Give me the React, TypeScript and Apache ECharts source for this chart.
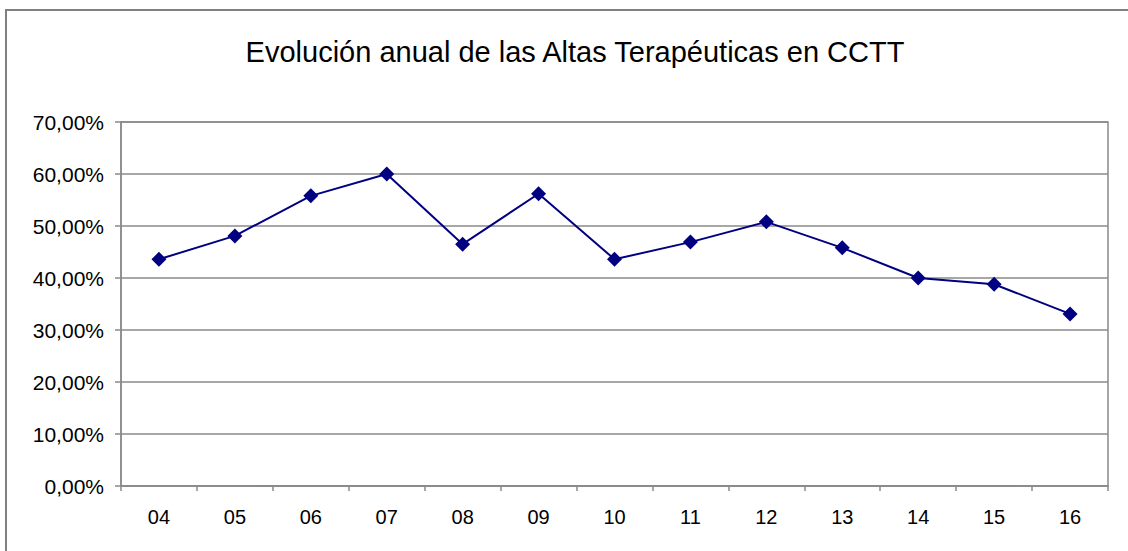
import React, { useEffect, useRef } from "react";
import * as echarts from "echarts";

const titleText = "Evolución anual de las Altas Terapéuticas en CCTT";
const categories = ["04", "05", "06", "07", "08", "09", "10", "11", "12", "13", "14", "15", "16"];
const altasValues = [0.436, 0.481, 0.558, 0.6, 0.465, 0.562, 0.436, 0.469, 0.508, 0.458, 0.4, 0.388, 0.331];
const yMin = 0;
const yMax = 0.7;
const yStep = 0.1;

export default function App() {
  const ref = useRef<HTMLDivElement>(null);
  useEffect(() => {
    if (!ref.current) return;
    const chart = echarts.init(ref.current, undefined, { renderer: "svg" });
    const gray = "#8a8a8a";
    chart.setOption({
      animation: false,
      backgroundColor: "#ffffff",
      title: {
        text: titleText,
        left: 570,
        top: 32,
        textAlign: "center",
        textStyle: {
          fontFamily: "Liberation Sans, Arial, sans-serif",
          fontSize: 29,
          fontWeight: "normal",
          color: "#000",
        },
      },
      graphic: [
        {
          type: "rect",
          shape: { x: 6, y: 10, width: 1300, height: 700 },
          style: { fill: "none", stroke: "#808080", lineWidth: 2 },
          silent: true,
        },
      ],
      grid: {
        left: 121,
        right: 20,
        top: 122,
        bottom: 65,
        show: true,
        borderColor: gray,
        borderWidth: 1.5,
        containLabel: false,
      },
      xAxis: {
        type: "category",
        data: categories,
        boundaryGap: true,
        axisLine: { lineStyle: { color: gray, width: 1.5 } },
        axisTick: { show: true, length: 5, lineStyle: { color: gray, width: 1.5 }, alignWithLabel: false },
        axisLabel: {
          color: "#000",
          fontSize: 20,
          fontFamily: "Liberation Sans, Arial, sans-serif",
          margin: 21,
        },
        splitLine: { show: false },
      },
      yAxis: {
        type: "value",
        min: yMin,
        max: yMax,
        interval: yStep,
        axisLine: { show: true, lineStyle: { color: gray, width: 1.5 } },
        axisTick: { show: true, length: 6, lineStyle: { color: gray, width: 1.5 } },
        axisLabel: {
          color: "#000",
          fontSize: 21,
          fontFamily: "Liberation Sans, Arial, sans-serif",
          margin: 17,
          formatter: (v: number) => (v * 100).toFixed(2).replace(".", ",") + "%",
        },
        splitLine: { show: true, lineStyle: { color: gray, width: 1.5 } },
      },
      series: [
        {
          type: "line",
          data: altasValues,
          symbol: "diamond",
          symbolSize: 15,
          itemStyle: { color: "#000080" },
          lineStyle: { color: "#000080", width: 2 },
        },
      ],
    });
    return () => chart.dispose();
  }, []);
  return (
    <div
      ref={ref}
      style={{ position: "fixed", left: 0, top: 0, width: 1128, height: 551 }}
    />
  );
}
